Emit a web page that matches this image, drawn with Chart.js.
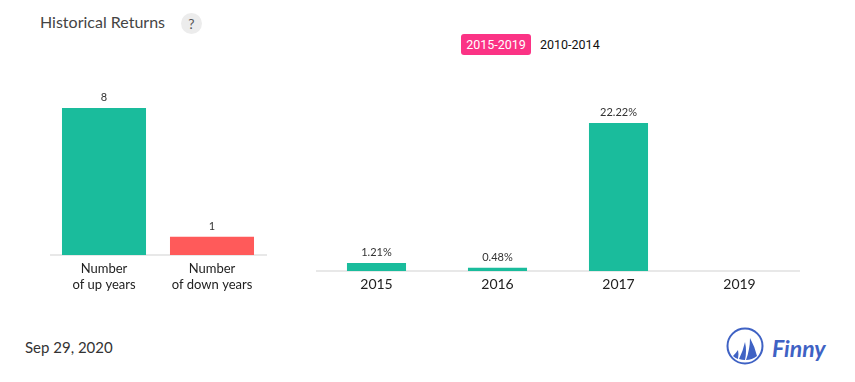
<!DOCTYPE html>
<html>
<head>
<meta charset="utf-8">
<title>Historical Returns</title>
<script src="https://cdn.jsdelivr.net/npm/chart.js@4"></script>
<style>
  html, body { margin: 0; padding: 0; background: #fff; width: 855px; height: 382px; overflow: hidden; font-family: Lato, sans-serif; }
  .abs { position: absolute; white-space: nowrap; }
  #title { left: 40px; top: 12px; font-size: 16px; line-height: 20px; color: #444; }
  #help { left: 181px; top: 13px; width: 21px; height: 21px; border-radius: 50%; background: #ececec; color: #555; font-size: 14px; line-height: 21px; text-align: center; }
  #btnOn { left: 461px; top: 34px; width: 70px; height: 21px; border-radius: 3px; background: #fb3385; color: #fff; font: 12.5px/22px Roboto, sans-serif; text-align: center; }
  #btnOff { left: 540px; top: 34px; color: #111; font: 12.5px/22px Roboto, sans-serif; }
  #date { left: 25px; top: 337px; font-size: 15px; line-height: 20px; color: #333; }
  #brand { left: 772px; top: 333px; font: italic 700 23px/30px Lato, sans-serif; color: #3f62c4; }
  #logo { left: 726px; top: 327px; }
  #upDown { position: absolute; left: 50px; top: 90px; }
  #yearly { position: absolute; left: 316px; top: 105px; }
</style>
</head>
<body>
<div class="abs" id="title">Historical Returns</div>
<div class="abs" id="help">?</div>
<div class="abs" id="btnOn">2015-2019</div>
<div class="abs" id="btnOff">2010-2014</div>
<canvas id="upDown" width="217" height="215"></canvas>
<canvas id="yearly" width="484" height="216"></canvas>
<div class="abs" id="date">Sep 29, 2020</div>
<svg class="abs" id="logo" width="38" height="38" viewBox="0 0 38 38">
  <circle cx="19" cy="19" r="17.5" fill="none" stroke="#3f62c4" stroke-width="2"/>
  <path d="M7 29 Q10 26 12 23 Q13 27 12 32 Q9 31 7 29 Z M13 32 Q17 24 19 15 Q21 24 19 33 Q16 33 13 32 Z M20 33 Q24 22 24 11 Q29 20 31 29 Q26 33 20 33 Z" fill="#3f62c4"/>
</svg>
<div class="abs" id="brand">Finny</div>
<script>
var countLabels = [['Number', 'of up years'], ['Number', 'of down years']]
var countValues = [8, 1]
var countText = ['8', '1']

var years = ['2015', '2016', '2017', '2019']
var returns = [1.21, 0.48, 22.22, null]
var returnText = ['1.21%', '0.48%', '22.22%', '']

var green = '#1abc9c'
var red = '#ff5a5a'

// writes the value above each bar, using the position the library gave the bar
function barLabels (texts) {
  return {
    id: 'barLabels',
    afterDatasetsDraw: function (chart) {
      var ctx = chart.ctx
      ctx.save()
      ctx.font = '11px Lato'
      ctx.fillStyle = '#333'
      ctx.textAlign = 'center'
      ctx.textBaseline = 'bottom'
      chart.getDatasetMeta(0).data.forEach(function (bar, i) {
        if (texts[i]) ctx.fillText(texts[i], bar.x, bar.y - 5)
      })
      ctx.restore()
    }
  }
}

function createBarChart (id, labels, values, colours, maxValue, texts, opts) {
  new Chart(document.getElementById(id), {
    type: 'bar',
    data: {
      labels: labels,
      datasets: [{
        data: values,
        backgroundColor: colours,
        barPercentage: opts.barPercentage,
        categoryPercentage: 1
      }]
    },
    options: {
      responsive: false,
      animation: false,
      layout: { padding: { top: opts.top, left: 0, right: opts.right, bottom: 0 } },
      plugins: { legend: { display: false }, tooltip: { enabled: false }, title: { display: false } },
      scales: {
        y: { display: false, min: 0, max: maxValue },
        x: {
          afterFit: function (scale) { scale.height = opts.axisHeight },
          grid: { display: false, drawTicks: false },
          border: { color: '#e8e8e8', width: 2 },
          ticks: {
            color: '#222',
            padding: opts.tickPadding,
            maxRotation: 0,
            autoSkip: false,
            font: { family: 'Lato', size: opts.fontSize, lineHeight: 1.2 }
          }
        }
      }
    },
    plugins: [barLabels(texts)]
  })
}

createBarChart('upDown', countLabels, countValues, [green, red], 8, countText, {
  barPercentage: 0.778, top: 18, right: 1, axisHeight: 50, fontSize: 13, tickPadding: 6
})
createBarChart('yearly', years, returns, green, 22.22, returnText, {
  barPercentage: 0.488, top: 18, right: 0, axisHeight: 50, fontSize: 14, tickPadding: 5
})
</script>
</body>
</html>
